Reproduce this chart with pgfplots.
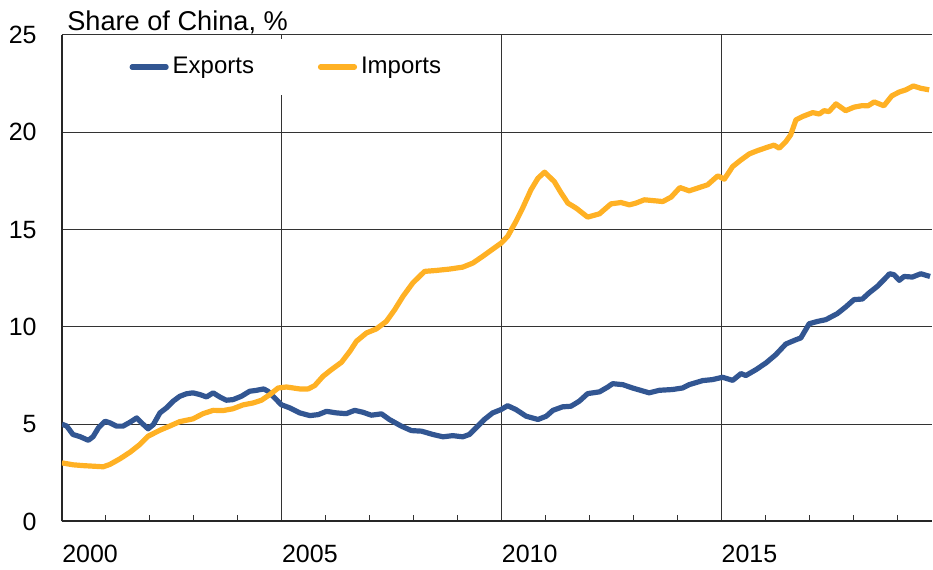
\documentclass[border=0pt]{standalone}
\usepackage{fontspec}
\setmainfont{Liberation Sans}
\usepackage{pgfplots}
\pgfplotsset{compat=1.18}

\definecolor{expblue}{RGB}{50,86,146}
\definecolor{impyel}{RGB}{255,177,36}

\pgfplotstableread{
year value
2000.00 5.00
2000.11 4.90
2000.25 4.47
2000.41 4.36
2000.60 4.17
2000.71 4.36
2000.83 4.81
2000.98 5.15
2001.09 5.07
2001.24 4.90
2001.39 4.90
2001.55 5.10
2001.70 5.32
2001.81 5.07
2001.96 4.76
2002.08 4.98
2002.23 5.58
2002.38 5.84
2002.53 6.18
2002.68 6.43
2002.83 6.56
2002.98 6.61
2003.14 6.52
2003.29 6.40
2003.44 6.61
2003.59 6.40
2003.74 6.23
2003.89 6.26
2004.08 6.43
2004.27 6.69
2004.43 6.74
2004.59 6.81
2004.69 6.69
2004.84 6.35
2004.99 6.00
2005.18 5.84
2005.41 5.58
2005.64 5.44
2005.83 5.49
2006.02 5.66
2006.24 5.58
2006.47 5.54
2006.66 5.71
2006.85 5.61
2007.04 5.46
2007.27 5.53
2007.45 5.24
2007.72 4.90
2007.95 4.67
2008.18 4.64
2008.44 4.47
2008.67 4.35
2008.89 4.41
2009.12 4.35
2009.27 4.47
2009.42 4.81
2009.61 5.24
2009.80 5.58
2009.99 5.75
2010.14 5.95
2010.33 5.75
2010.56 5.41
2010.83 5.24
2011.02 5.41
2011.17 5.71
2011.39 5.89
2011.58 5.92
2011.77 6.18
2011.96 6.57
2012.23 6.66
2012.42 6.91
2012.53 7.08
2012.76 7.03
2012.98 6.86
2013.36 6.61
2013.59 6.74
2013.89 6.78
2014.12 6.86
2014.27 7.03
2014.58 7.24
2014.80 7.29
2015.03 7.41
2015.26 7.25
2015.45 7.60
2015.56 7.50
2015.79 7.80
2016.02 8.15
2016.24 8.57
2016.47 9.12
2016.70 9.34
2016.81 9.43
2017.00 10.16
2017.19 10.28
2017.38 10.37
2017.64 10.68
2017.83 11.02
2018.02 11.40
2018.21 11.43
2018.36 11.74
2018.55 12.08
2018.70 12.42
2018.83 12.73
2018.93 12.68
2019.05 12.39
2019.16 12.59
2019.35 12.56
2019.54 12.73
2019.75 12.59
}\exports

\pgfplotstableread{
year value
2000.00 3.01
2000.26 2.91
2000.48 2.87
2000.71 2.84
2000.94 2.81
2001.09 2.93
2001.32 3.22
2001.55 3.56
2001.77 3.95
2001.96 4.38
2002.23 4.69
2002.45 4.90
2002.68 5.13
2002.98 5.27
2003.21 5.54
2003.44 5.71
2003.67 5.70
2003.89 5.79
2004.12 5.99
2004.35 6.09
2004.54 6.23
2004.73 6.52
2004.92 6.86
2005.11 6.91
2005.41 6.81
2005.60 6.81
2005.75 6.98
2005.94 7.46
2006.13 7.80
2006.36 8.18
2006.55 8.74
2006.70 9.26
2006.93 9.69
2007.15 9.89
2007.38 10.28
2007.57 10.88
2007.76 11.57
2007.98 12.25
2008.25 12.85
2008.52 12.90
2008.82 12.97
2009.12 13.07
2009.35 13.28
2009.57 13.62
2009.73 13.88
2009.99 14.30
2010.14 14.65
2010.33 15.42
2010.48 16.10
2010.67 17.04
2010.83 17.64
2010.98 17.95
2011.20 17.47
2011.36 16.87
2011.51 16.36
2011.70 16.10
2011.96 15.64
2012.23 15.81
2012.49 16.32
2012.72 16.39
2012.91 16.27
2013.06 16.36
2013.25 16.53
2013.44 16.49
2013.67 16.44
2013.86 16.67
2014.06 17.16
2014.27 16.99
2014.46 17.13
2014.69 17.30
2014.92 17.76
2015.07 17.59
2015.26 18.24
2015.45 18.58
2015.64 18.89
2015.83 19.06
2016.05 19.23
2016.20 19.34
2016.32 19.18
2016.47 19.52
2016.58 19.87
2016.70 20.64
2016.85 20.81
2017.08 21.01
2017.23 20.94
2017.34 21.11
2017.45 21.06
2017.61 21.46
2017.83 21.11
2018.02 21.29
2018.21 21.37
2018.34 21.36
2018.48 21.56
2018.70 21.36
2018.88 21.87
2019.05 22.07
2019.20 22.18
2019.37 22.38
2019.54 22.26
2019.73 22.18
}\imports

\begin{document}
\fontsize{12.5}{15}\selectfont
\begin{tikzpicture}
\begin{axis}[
    name=ax,
    scale only axis,
    width=435.5pt,
    height=243.5pt,
    xmin=2000, xmax=2019.795,
    ymin=0, ymax=25,
    axis lines=left,
    axis line style={-, line width=1pt, black!85},
    tick pos=left,
    tick align=inside,
    xtick={2000,2005,2010,2015},
    minor xtick={2001,2002,2003,2004,2006,2007,2008,2009,2011,2012,2013,2014,2016,2017,2018,2019},
    major x tick style={draw=none},
    minor x tick style={line width=0.5pt, black!80},
    minor tick length=3pt,
    ytick={0,5,10,15,20,25},
    ytick style={draw=none},
    xmajorgrids, ymajorgrids,
    grid style={line width=0.5pt, black!80},
    x tick label style={/pgf/number format/1000 sep={}, anchor=north west, inner sep=0pt, yshift=-11.5pt},
    y tick label style={anchor=east, inner sep=0pt, xshift=-12.5pt},
    /pgf/number format/assume math mode=true,
    legend columns=2,
    legend style={at={(0.259,0.934)}, anchor=center, draw=none, fill=white,
        inner xsep=6pt, inner ysep=7pt, font=\fontsize{12}{14}\selectfont,
        nodes={inner xsep=2pt},
        /tikz/every even column/.append style={column sep=30pt}},
    legend cell align=left,
    legend image code/.code={\draw[#1, line cap=round] (0pt,0pt) -- (17pt,0pt);},
]
\addplot[expblue, line width=2.6pt, line join=round] table[x=year, y=value] {\exports};
\addlegendentry{Exports}
\addplot[impyel, line width=2.6pt, line join=round] table[x=year, y=value] {\imports};
\addlegendentry{Imports}
\end{axis}
\node[anchor=base west, inner sep=0pt, font=\fontsize{13.6}{16}\selectfont] at ([xshift=2.5pt, yshift=2pt]ax.north west) {Share of China, \%};
\path ([xshift=-31pt, yshift=-24pt]ax.south west) rectangle ([yshift=17.5pt]ax.north east);
\end{tikzpicture}
\end{document}
